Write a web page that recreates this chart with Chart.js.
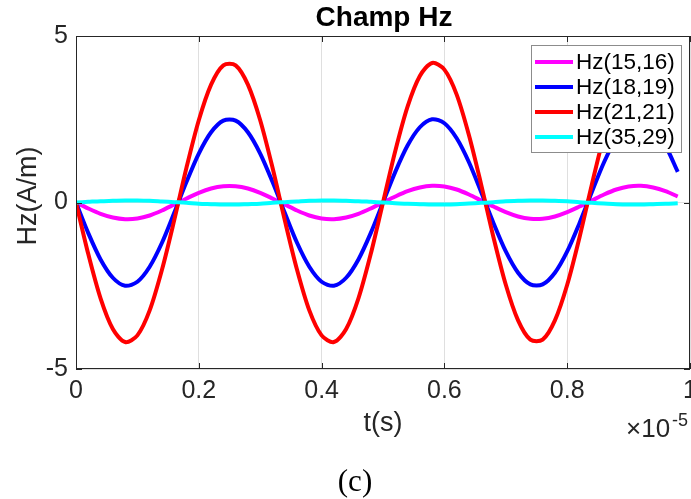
<!DOCTYPE html>
<html>
<head>
<meta charset="utf-8">
<script src="https://cdn.jsdelivr.net/npm/chart.js@4"></script>
<style>
  html, body { margin: 0; padding: 0; background: #fff; }
  canvas { display: block; }
</style>
</head>
<body>
<canvas id="champChart" width="691" height="499"></canvas>
<script>
// temps (x 1e-5 s)
const tValues = [0, 0.02, 0.04, 0.06, 0.08, 0.1, 0.12, 0.14, 0.16, 0.18,
  0.2, 0.22, 0.24, 0.26, 0.28, 0.3, 0.32, 0.34, 0.36, 0.38,
  0.4, 0.42, 0.44, 0.46, 0.48, 0.5, 0.52, 0.54, 0.56, 0.58,
  0.6, 0.62, 0.64, 0.66, 0.68, 0.7, 0.72, 0.74, 0.76, 0.78,
  0.8, 0.82, 0.84, 0.86, 0.88, 0.9, 0.92, 0.94, 0.96, 0.98];

const seriesLabels = ["Hz(15,16)", "Hz(18,19)", "Hz(21,21)", "Hz(35,29)"];
const seriesColors = ["#ff00ff", "#0000ff", "#ff0000", "#00ffff"];

const hz1516 = [0, -0.18, -0.34, -0.45, -0.5, -0.48, -0.39, -0.24, -0.06, 0.12,
  0.29, 0.42, 0.49, 0.49, 0.42, 0.29, 0.12, -0.06, -0.24, -0.39,
  -0.48, -0.5, -0.45, -0.34, -0.18, 0, 0.18, 0.34, 0.45, 0.5,
  0.48, 0.39, 0.24, 0.06, -0.12, -0.29, -0.42, -0.49, -0.49, -0.42,
  -0.29, -0.12, 0.06, 0.24, 0.39, 0.48, 0.5, 0.45, 0.34, 0.18];

const hz1819 = [0, -0.92, -1.71, -2.26, -2.5, -2.38, -1.93, -1.21, -0.31, 0.62,
  1.47, 2.11, 2.46, 2.46, 2.11, 1.47, 0.62, -0.31, -1.21, -1.93,
  -2.38, -2.5, -2.26, -1.71, -0.92, 0, 0.92, 1.71, 2.26, 2.5,
  2.38, 1.93, 1.21, 0.31, -0.62, -1.47, -2.11, -2.46, -2.46, -2.11,
  -1.47, -0.62, 0.31, 1.21, 1.93, 2.38, 2.5, 2.26, 1.71, 0.92];

const hz2121 = [0, -1.55, -2.88, -3.8, -4.19, -3.99, -3.24, -2.02, -0.53, 1.05,
  2.47, 3.54, 4.12, 4.12, 3.54, 2.47, 1.05, -0.53, -2.02, -3.24,
  -3.99, -4.19, -3.8, -2.88, -1.55, 0, 1.55, 2.88, 3.8, 4.19,
  3.99, 3.24, 2.02, 0.53, -1.05, -2.47, -3.54, -4.12, -4.12, -3.54,
  -2.47, -1.05, 0.53, 2.02, 3.24, 3.99, 4.19, 3.8, 2.88, 1.55];

const hz3529 = [0, 0.02, 0.04, 0.05, 0.06, 0.06, 0.05, 0.03, 0.01, -0.01,
  -0.04, -0.05, -0.06, -0.06, -0.05, -0.04, -0.01, 0.01, 0.03, 0.05,
  0.06, 0.06, 0.05, 0.04, 0.02, 0, -0.02, -0.04, -0.05, -0.06,
  -0.06, -0.05, -0.03, -0.01, 0.01, 0.04, 0.05, 0.06, 0.06, 0.05,
  0.04, 0.01, -0.01, -0.03, -0.05, -0.06, -0.06, -0.05, -0.04, -0.02];

const xTickValues = [0, 0.2, 0.4, 0.6, 0.8, 1];
const yTickValues = [-5, 0, 5];

const allSeries = [hz1516, hz1819, hz2121, hz3529];
const SANS = "'Liberation Sans', Arial, Helvetica, sans-serif";
const AXIS_COLOR = "#262626";

// cadre, petites graduations internes, titres et légende façon MATLAB
const matlabDecor = {
  id: "matlabDecor",
  afterDraw(chart) {
    const ctx = chart.ctx;
    const a = chart.chartArea;
    const xs = chart.scales.x;
    const ys = chart.scales.y;
    ctx.save();

    ctx.strokeStyle = AXIS_COLOR;
    ctx.lineWidth = 1;
    ctx.strokeRect(a.left + 0.5, a.top + 0.5, a.right - a.left - 1, a.bottom - a.top - 1);
    ctx.beginPath();
    xTickValues.forEach((v) => {
      const px = Math.round(xs.getPixelForValue(v)) + 0.5;
      ctx.moveTo(px, a.bottom); ctx.lineTo(px, a.bottom - 6);
      ctx.moveTo(px, a.top); ctx.lineTo(px, a.top + 6);
    });
    yTickValues.forEach((v) => {
      const py = Math.round(ys.getPixelForValue(v)) + 0.5;
      ctx.moveTo(a.left, py); ctx.lineTo(a.left + 6, py);
      ctx.moveTo(a.right, py); ctx.lineTo(a.right - 6, py);
    });
    ctx.stroke();

    // titre
    ctx.fillStyle = "#000";
    ctx.font = "bold 28px " + SANS;
    ctx.textAlign = "center";
    ctx.textBaseline = "middle";
    ctx.fillText("Champ Hz", 384, 18);

    // étiquettes des axes
    ctx.fillStyle = AXIS_COLOR;
    ctx.font = "27px " + SANS;
    ctx.fillText("t(s)", 383, 424);
    ctx.save();
    ctx.translate(29, 196);
    ctx.rotate(-Math.PI / 2);
    ctx.fillText("Hz(A/m)", 0, 0);
    ctx.restore();

    // facteur d'échelle
    ctx.textAlign = "left";
    ctx.textBaseline = "alphabetic";
    ctx.font = "26px " + SANS;
    ctx.fillText("\u00d710", 626, 437);
    ctx.font = "18px " + SANS;
    ctx.fillText("-5", 672, 426);

    // sous-titre (c)
    ctx.fillStyle = "#000";
    ctx.textAlign = "center";
    ctx.textBaseline = "middle";
    ctx.font = "31px 'Liberation Serif', 'Times New Roman', serif";
    ctx.fillText("(c)", 355, 483);

    // légende
    const lx = 531, ly = 45, lw = 150, lh = 107;
    ctx.fillStyle = "#fff";
    ctx.fillRect(lx, ly, lw, lh);
    ctx.strokeStyle = "#8c8c8c";
    ctx.lineWidth = 1;
    ctx.strokeRect(lx + 0.5, ly + 0.5, lw, lh);
    ctx.font = "22.5px " + SANS;
    ctx.textAlign = "left";
    chart.data.datasets.forEach((ds, i) => {
      const cy = ly + 17 + i * 25;
      ctx.strokeStyle = ds.borderColor;
      ctx.lineWidth = 4;
      ctx.beginPath();
      ctx.moveTo(lx + 4, cy);
      ctx.lineTo(lx + 42, cy);
      ctx.stroke();
      ctx.fillStyle = "#000";
      ctx.fillText(ds.label, lx + 45, cy + 1);
    });
    ctx.restore();
  },
};

const ctx = document.getElementById("champChart").getContext("2d");
new Chart(ctx, {
  type: "line",
  data: {
    datasets: allSeries.map((vals, i) => ({
      label: seriesLabels[i],
      data: vals.map((v, j) => ({ x: tValues[j], y: v })),
      borderColor: seriesColors[i],
      backgroundColor: seriesColors[i],
      borderWidth: 4,
      pointRadius: 0,
      tension: 0.3,
      fill: false,
      order: allSeries.length - i,
    })),
  },
  options: {
    responsive: false,
    animation: false,
    devicePixelRatio: 1,
    layout: { padding: { left: 0, top: 36, right: 1, bottom: 0 } },
    plugins: {
      legend: { display: false },
      title: { display: false },
      tooltip: { enabled: false },
    },
    scales: {
      x: {
        type: "linear",
        min: 0,
        max: 1,
        afterBuildTicks: (s) => { s.ticks = xTickValues.map((v) => ({ value: v })); },
        afterFit: (s) => { s.height = 130; s.paddingLeft = 0; s.paddingRight = 0; },
        border: { display: false },
        grid: { color: "#dfdfdf", drawTicks: false },
        ticks: {
          padding: 7,
          color: AXIS_COLOR,
          font: { family: SANS, size: 25 },
          maxRotation: 0,
          callback: (v) => String(Number(v.toFixed(1))),
        },
      },
      y: {
        min: -5,
        max: 5,
        afterBuildTicks: (s) => { s.ticks = yTickValues.map((v) => ({ value: v })); },
        afterFit: (s) => { s.width = 76; s.paddingTop = 0; s.paddingBottom = 0; },
        border: { display: false },
        grid: { color: "#dfdfdf", drawTicks: false },
        ticks: {
          padding: 8,
          color: AXIS_COLOR,
          font: { family: SANS, size: 25 },
          callback: (v) => String(v),
        },
      },
    },
  },
  plugins: [matlabDecor],
});
</script>
</body>
</html>
